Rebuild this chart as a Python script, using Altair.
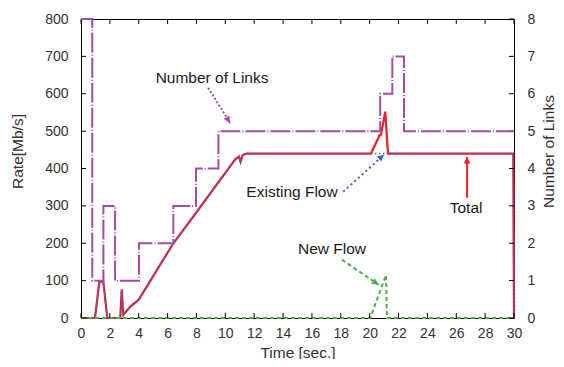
import altair as alt
import pandas as pd

# ---------------- data ----------------
exist_time = [0, 0.97, 1.27, 1.55, 1.82, 2.72, 2.82, 2.93, 3.4, 4.0, 6.4, 8.0,
              10.7, 10.95, 11.05, 11.2, 11.5, 29.95, 30.0]
exist_rate = [0, 0, 97, 97, 0, 0, 76, 8, 30, 49, 200, 283,
              425, 432, 418, 436, 440, 440, 0]

total_time = [0, 0.97, 1.27, 1.55, 1.82, 2.72, 2.82, 2.93, 3.4, 4.0, 6.4, 8.0,
              10.7, 10.95, 11.05, 11.2, 11.5, 20.09, 20.69, 20.78, 21.08, 21.27,
              29.95, 30.0]
total_rate = [0, 0, 97, 97, 0, 0, 76, 8, 30, 49, 200, 283,
              425, 432, 418, 436, 440, 440, 489, 490, 552, 440,
              440, 0]

new_time = [0, 20.04, 21.13, 21.2, 30]
new_rate = [0, 0, 115, 0, 0]

link_time = [0, 0.78, 1.55, 2.36, 4.02, 6.4, 7.97, 9.52, 20.73, 21.57, 22.38, 30]
link_count = [8, 1, 3, 1, 2, 3, 4, 5, 6, 7, 5, 5]

x_ticks = list(range(0, 31, 2))
rate_ticks = list(range(0, 801, 100))
link_ticks = list(range(0, 9))

label_text = ["Number of Links", "Existing Flow", "Total", "New Flow"]
label_time = [9.08, 14.62, 26.68, 17.39]
label_rate = [642, 337, 294, 184]

arrow_t1 = [8.81, 18.17, 26.75, 18.08]
arrow_r1 = [616, 338, 322, 156]
arrow_t2 = [10.33, 21.0, 26.75, 20.62]
arrow_r2 = [522, 437, 431, 89]
arrow_angle = [148, 49, 0, 124]

# ---------------- styles ----------------
PURPLE = "#a64ca0"
RED = "#e8232a"
BLUE = "#4463c0"
GREEN = "#4dae4a"
FONT = "Liberation Sans"
W, H = 433, 299

def frame(t, v):
    return pd.DataFrame({"t": t, "v": v, "i": list(range(len(t)))})

total_df = frame(total_time, total_rate)
exist_df = frame(exist_time, exist_rate)
new_df = frame(new_time, new_rate)
link_df = frame(link_time, link_count)

xs = alt.Scale(domain=[0, 30], nice=False, zero=False)
ys = alt.Scale(domain=[0, 800], nice=False)
ls = alt.Scale(domain=[0, 8], nice=False)

x_axis = alt.Axis(values=x_ticks, title="Time [sec.]", labelPadding=8,
                  labelFlush=False, labelOverlap=False,
                  titleX=W / 2, titleY=34, titleBaseline="middle", titleAlign="center")
y_axis = alt.Axis(values=rate_ticks, title="Rate[Mb/s]", orient="left", labelPadding=13,
                  labelFlush=False, labelOverlap=False,
                  titleAngle=-90, titleX=-64, titleY=132, titleBaseline="middle",
                  titleAlign="center")
l_axis = alt.Axis(values=link_ticks, orient="right", title="Number of Links",
                  labelPadding=13, labelFlush=False, labelOverlap=False,
                  titleAngle=-90, titleX=34, titleY=132,
                  titleBaseline="middle", titleAlign="center")

def X(f):
    return alt.X(f, type="quantitative", scale=xs, axis=x_axis)

def Y(f):
    return alt.Y(f, type="quantitative", scale=ys, axis=y_axis)

total_line = alt.Chart(total_df).mark_line(color=RED, strokeWidth=2.2).encode(
    x=X("t"), y=Y("v"), order="i:Q",
)
exist_line = alt.Chart(exist_df).mark_line(color=BLUE, strokeWidth=1.6,
                                           strokeDash=[1.5, 2.5]).encode(
    x=X("t"), y=Y("v"), order="i:Q"
)
new_line = alt.Chart(new_df).mark_line(color=GREEN, strokeWidth=2, strokeDash=[4, 3]).encode(
    x=X("t"), y=Y("v"), order="i:Q"
)

ann_df = pd.DataFrame({"txt": label_text, "t": label_time, "v": label_rate})
texts = alt.Chart(ann_df).mark_text(font=FONT, fontSize=15.5, color="#1a1a1a",
                                    align="center", baseline="middle").encode(
    x=X("t"), y=Y("v"), text="txt:N"
)

arrow_colors = [PURPLE, BLUE, RED, GREEN]
arrow_dashes = [[2, 2], [2, 3], [1, 0], [4, 3]]
arrow_layers = []
for k in range(4):
    adf = pd.DataFrame({"t1": [arrow_t1[k]], "v1": [arrow_r1[k]],
                        "t2": [arrow_t2[k]], "v2": [arrow_r2[k]]})
    shaft = alt.Chart(adf).mark_rule(color=arrow_colors[k], strokeWidth=2,
                                     strokeDash=arrow_dashes[k]).encode(
        x=X("t1"), y=Y("v1"), x2="t2:Q", y2="v2:Q"
    )
    head = alt.Chart(adf).mark_point(shape="M0,0 L-0.5,1 L0.5,1 Z", filled=True,
                                     size=180, opacity=1, color=arrow_colors[k],
                                     angle=arrow_angle[k]).encode(
        x=X("t2"), y=Y("v2")
    )
    arrow_layers += [shaft, head]

xt_df = pd.DataFrame({"t": x_ticks})
yt_df = pd.DataFrame({"v": rate_ticks})
tick_bottom = alt.Chart(xt_df).mark_rule(color="#000", strokeWidth=1).encode(
    x=X("t"), y=alt.value(H), y2=alt.value(H - 5))
tick_top = alt.Chart(xt_df).mark_rule(color="#000", strokeWidth=1).encode(
    x=X("t"), y=alt.value(0), y2=alt.value(5))
tick_left = alt.Chart(yt_df).mark_rule(color="#000", strokeWidth=1).encode(
    y=Y("v"), x=alt.value(0), x2=alt.value(5))
tick_right = alt.Chart(yt_df).mark_rule(color="#000", strokeWidth=1).encode(
    y=Y("v"), x=alt.value(W), x2=alt.value(W - 5))

rate_layer = alt.layer(total_line, exist_line, new_line, *arrow_layers, texts,
                       tick_bottom, tick_top, tick_left, tick_right)

links_line = alt.Chart(link_df).mark_line(color=PURPLE, strokeWidth=2,
                                          interpolate="step-after",
                                          strokeDash=[20, 2, 1, 2]).encode(
    x=X("t"),
    y=alt.Y("v:Q", scale=ls, axis=l_axis),
    order="i:Q",
)

chart = alt.layer(rate_layer, links_line).resolve_scale(y="independent").properties(
    width=W, height=H,
    padding={"left": 73, "top": 11, "right": 42, "bottom": 41},
    autosize=alt.AutoSizeParams(type="none"),
).configure_view(stroke="#000", strokeWidth=1).configure_axis(
    domain=False, ticks=False, grid=False,
    labelFont=FONT, labelFontSize=14, labelColor="#333",
    titleFont=FONT, titleFontSize=15.5, titleFontWeight="normal", titleColor="#333",
)

chart.save("out.html", embed_options={"renderer": "svg", "actions": False})
